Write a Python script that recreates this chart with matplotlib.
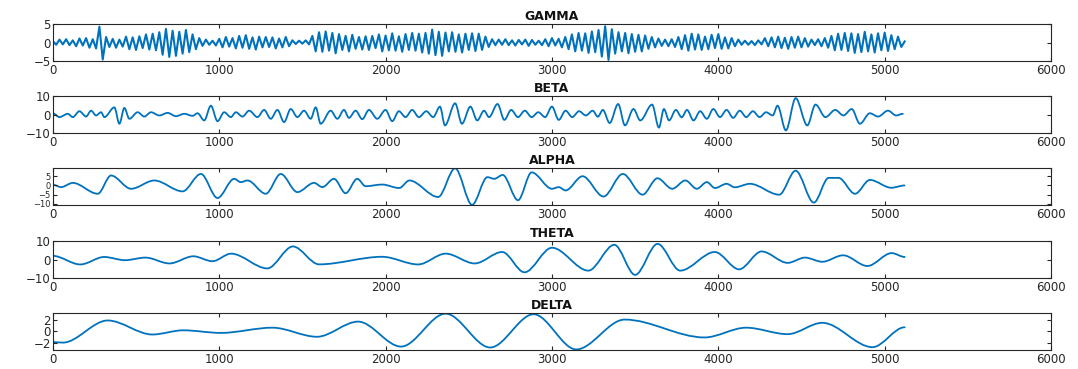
import numpy as np
import matplotlib
matplotlib.use("Agg")
import matplotlib.pyplot as plt
from matplotlib.path import Path
from matplotlib.patches import PathPatch

# gamma is fast, kept as alternating peaks every 20 samples
gamma_step = 20
gamma_peaks = [
    0.4, -0.6, 0.8, -0.5, 0.9, -0.7, 0.6, -1.0, 1.1, -0.8, 1.2, -1.4, 0.9, -1.6, 4.3, -4.6,
    1.5, -1.2, 1.0, -1.4, 0.8, -1.1, 1.6, -1.8, 1.4, -2.0, 1.7, -1.5, 2.2, -1.9, 2.4, -2.1,
    2.8, -3.3, 3.7, -3.9, 3.2, -3.6, 2.9, -3.0, 3.4, -2.6, 2.2, -1.8, 1.2, -0.9, 0.8, -0.6,
    0.5, -0.8, 1.0, -1.3, 1.5, -1.1, 1.2, -1.6, 1.8, -1.4, 2.0, -1.7, 1.4, -1.9, 1.6, -1.3,
    1.5, -1.2, 1.4, -1.6, 1.1, -1.3, 1.5, -1.0, 0.6, -0.4, 0.5, -0.3, 0.6, -0.5, 1.8, -2.4,
    2.8, -2.5, 3.0, -2.2, 2.6, -2.9, 2.3, -2.0, 1.8, -2.4, 2.1, -1.7, 1.5, -1.9, 1.7, -2.0,
    1.8, -1.5, 2.2, -2.4, 1.9, -2.1, 2.5, -2.2, 1.7, -2.5, 2.3, -2.0, 2.6, -2.2, 2.4, -2.7,
    2.6, -3.0, 3.5, -3.4, 2.9, -3.6, 2.7, -2.4, 2.8, -2.5, 2.2, -2.7, 2.4, -2.0, 2.5, -2.3,
    2.4, -2.0, 1.6, -1.2, 0.9, -0.7, 0.8, -0.6, 0.9, -0.7, 0.6, -0.8, 0.7, -0.5, 0.8, -0.9,
    0.7, -0.6, 0.5, -0.7, 0.9, -1.0, 1.2, -0.8, 1.0, -1.3, 1.5, -1.8, 2.2, -2.4, 2.6, -2.2,
    2.5, -2.8, 3.0, -2.6, 3.4, -3.8, 4.4, -4.7, 3.6, -3.0, 2.8, -2.4, 2.6, -2.9, 2.3, -2.5,
    2.1, -2.4, 1.9, -1.7, 1.5, -1.3, 1.1, -0.9, 0.8, -1.0, 0.9, -1.2, 1.5, -1.8, 2.0, -2.2,
    2.4, -1.9, 2.2, -2.0, 1.6, -1.8, 2.1, -1.5, 2.3, -1.7, 1.4, -1.6, 1.2, -1.0, 0.8, -0.6,
    0.5, -0.6, 0.4, -0.7, 0.6, -0.5, 1.2, -1.0, 1.4, -1.3, 1.6, -1.5, 1.3, -1.7, 1.5, -1.4,
    1.6, -1.3, 1.2, -1.1, 0.8, -0.7, 0.9, -1.0, 1.2, -1.4, 1.8, -2.1, 2.4, -2.0, 2.6, -2.3,
    2.5, -2.8, 2.3, -2.6, 2.9, -2.4, 2.2, -2.7, 2.5, -2.1, 2.7, -2.3, 2.0, -1.8, 1.6, -1.2,
    0.3,
]
gamma_x = [i * gamma_step for i in range(len(gamma_peaks))]

# slower bands, stored as successive turning points (sample index, amplitude)
beta_x = [0, 40, 90, 120, 160, 200, 230, 260, 290, 310,
          370, 400, 430, 460, 510, 550, 590, 640, 690, 740,
          790, 840, 870, 910, 950, 990, 1030, 1070, 1100, 1140,
          1180, 1230, 1270, 1310, 1350, 1390, 1430, 1470, 1510, 1550,
          1580, 1610, 1670, 1710, 1750, 1780, 1820, 1860, 1900, 1950,
          2000, 2040, 2080, 2120, 2160, 2200, 2245, 2286, 2327, 2357,
          2418, 2459, 2510, 2551, 2592, 2622, 2673, 2714, 2755, 2796,
          2837, 2878, 2918, 2959, 3000, 3041, 3082, 3122, 3163, 3204,
          3245, 3276, 3306, 3347, 3398, 3439, 3490, 3531, 3602, 3643,
          3673, 3704, 3745, 3780, 3812, 3851, 3891, 3931, 3970, 4010,
          4050, 4089, 4129, 4168, 4208, 4248, 4287, 4327, 4356, 4406,
          4465, 4535, 4584, 4644, 4703, 4752, 4802, 4851, 4911, 4960,
          5020, 5069, 5109]
beta_y = [0.7, -1.4, 0.4, -1.4, 1.8, -1.1, 2.1, -0.5, 1.25, -1.4,
          3.9, -5.0, 3.6, -2.3, 1.25, -1.1, 1.25, -0.5, 0.9, -0.9,
          0.4, -0.7, 0.7, -3.2, 4.8, -3.6, 1.25, -1.4, 1.25, -1.1,
          2.1, -1.4, 2.5, -2.3, 2.5, -4.1, 3.0, -1.4, 2.1, -2.3,
          3.9, -5.0, 2.1, -2.3, 2.5, -1.8, 2.1, -2.5, 2.5, -2.3,
          2.5, -3.6, 1.8, -1.4, 2.5, -1.4, 1.8, -1.4, 4.3, -5.9,
          6.1, -5.0, 4.3, -3.2, 2.1, -1.4, 5.7, -2.9, 2.5, -1.4,
          2.1, -1.4, 1.25, -1.4, 4.3, -2.9, 2.1, -1.4, 1.8, -0.5,
          2.1, -1.2, 2.5, -4.6, 5.7, -5.9, 3.0, -3.2, 5.4, -7.1,
          3.0, -3.2, 2.5, -1.5, 2.5, -3.2, 1.8, -2.3, 3.0, -1.4,
          2.5, -1.8, 2.1, -1.4, 1.8, -1.4, 1.25, -0.5, 4.8, -8.6,
          8.9, -5.9, 5.4, -1.4, 2.5, -0.5, 3.0, -5.0, 0.7, -1.1,
          2.1, -0.5, 0.4]

alpha_x = [0, 50, 120, 270, 350, 470, 610, 780, 890, 990,
           1090, 1130, 1170, 1280, 1370, 1470, 1570, 1620, 1690, 1760,
           1830, 1880, 1980, 2082, 2143, 2316, 2418, 2520, 2612, 2653,
           2704, 2796, 2878, 3000, 3041, 3082, 3184, 3310, 3426, 3545,
           3634, 3723, 3802, 3871, 3931, 3980, 4050, 4099, 4190, 4366,
           4465, 4574, 4663, 4723, 4822, 4911, 5040, 5119]
alpha_y = [0.4, -0.9, 1.4, -4.5, 5.4, -1.8, 2.7, -3.2, 6.25, -6.8,
           3.6, 1.8, 2.7, -4.5, 6.25, -3.6, 1.4, -0.9, 3.6, -4.2,
           3.6, -0.4, 0.5, -1.4, 2.7, -6.25, 9.3, -10.5, 4.5, 3.6,
           5.7, -8.0, 7.1, -1.8, -0.9, -2.7, 5.0, -6.0, 6.25, -5.0,
           3.9, -1.8, 2.7, -1.8, 1.8, -1.4, 0.9, -1.0, 0.9, -5.0,
           8.0, -9.3, 4.1, 4.1, -4.5, 3.0, -1.25, 0.0]

theta_x = [0, 165, 309, 433, 557, 701, 845, 959, 1072, 1289,
           1443, 1600, 1980, 2196, 2361, 2536, 2701, 2835, 3000, 3219,
           3375, 3500, 3635, 3771, 3979, 4125, 4260, 4417, 4521, 4625,
           4750, 4896, 5042, 5120]
theta_y = [2.0, -2.65, 1.4, -0.35, 1.06, -2.1, 1.77, -0.9, 3.2, -4.8,
           7.1, -2.6, 1.5, -2.65, 3.2, -2.1, 4.1, -6.9, 6.4, -6.0,
           8.0, -8.3, 8.5, -6.0, 4.1, -5.3, 4.4, -1.8, 1.06, -1.2,
           2.3, -3.5, 3.5, 1.4]

delta_x = [0, 60, 330, 598, 784, 1010, 1320, 1588, 1835, 2093,
           2361, 2629, 2890, 3146, 3437, 3917, 4167, 4417, 4625, 4927,
           5120]
delta_y = [-1.9, -2.0, 1.9, -0.57, 0.17, -0.29, 0.63, -0.97, 1.7, -2.7,
           3.1, -2.86, 3.0, -3.2, 2.06, -1.09, 0.63, -0.51, 1.49, -2.8,
           0.7]

# name, x, y, ylim, yticks, tick label size, smooth
panels = [
    ('GAMMA', gamma_x, gamma_peaks, (-5, 5), [-5, 0, 5], 8.5, False),
    ('BETA', beta_x, beta_y, (-10, 10), [-10, 0, 10], 8.5, True),
    ('ALPHA', alpha_x, alpha_y, (-10.6, 9.4), [-10, -5, 0, 5], 6.0, True),
    ('THETA', theta_x, theta_y, (-10, 10), [-10, 0, 10], 8.5, True),
    ('DELTA', delta_x, delta_y, (-3.3, 3.2), [-2, 0, 2], 8.5, True),
]
bottoms = [0.8347, 0.6396, 0.4444, 0.2466, 0.0515]

line_color = '#0072BD'
axis_color = '#262626'


def wave_path(xs, ys):
    # cubic segments with flat tangents at every turning point
    verts = [(xs[0], ys[0])]
    codes = [Path.MOVETO]
    for i in range(len(xs) - 1):
        d = (xs[i + 1] - xs[i]) / 3.0
        verts += [(xs[i] + d, ys[i]), (xs[i + 1] - d, ys[i + 1]), (xs[i + 1], ys[i + 1])]
        codes += [Path.CURVE4, Path.CURVE4, Path.CURVE4]
    return Path(verts, codes)


fig = plt.figure(figsize=(10.78, 3.69), dpi=100)

for (name, xs, ys, ylim, yticks, ysize, smooth), b in zip(panels, bottoms):
    ax = fig.add_axes([0.049, b, 0.926, 0.100])
    if smooth:
        ax.add_patch(PathPatch(wave_path(xs, ys), fill=False, edgecolor=line_color,
                               linewidth=1.3, capstyle='round', joinstyle='round'))
    else:
        ax.plot(xs, ys, color=line_color, linewidth=1.5)
    ax.set_xlim(0, 6000)
    ax.set_ylim(*ylim)
    ax.set_xticks(np.arange(0, 6001, 1000))
    ax.set_yticks(yticks)
    ax.tick_params(direction='in', top=True, right=True, length=3, width=0.8,
                   labelsize=8.5, colors=axis_color, pad=2)
    ax.tick_params(axis='y', labelsize=ysize, pad=1.5)
    for s in ax.spines.values():
        s.set_color(axis_color)
        s.set_linewidth(0.8)
    ax.set_title(name, fontsize=9, fontweight='bold', color='#111111', pad=3)

plt.savefig('out.png', dpi=100)
